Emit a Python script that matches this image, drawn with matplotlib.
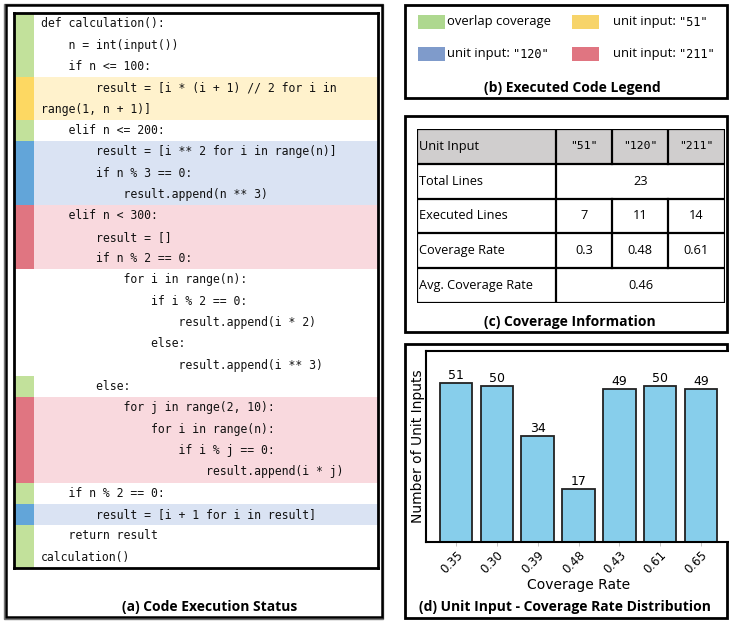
import numpy as np
import matplotlib
matplotlib.use("Agg")
import matplotlib.pyplot as plt
from matplotlib.patches import Rectangle

W, H = 729, 621

#%% data
code_lines = [
    "def calculation():",
    "    n = int(input())",
    "    if n <= 100:",
    "        result = [i * (i + 1) // 2 for i in",
    "range(1, n + 1)]",
    "    elif n <= 200:",
    "        result = [i ** 2 for i in range(n)]",
    "        if n % 3 == 0:",
    "            result.append(n ** 3)",
    "    elif n < 300:",
    "        result = []",
    "        if n % 2 == 0:",
    "            for i in range(n):",
    "                if i % 2 == 0:",
    "                    result.append(i * 2)",
    "                else:",
    "                    result.append(i ** 3)",
    "        else:",
    "            for j in range(2, 10):",
    "                for i in range(n):",
    "                    if i % j == 0:",
    "                        result.append(i * j)",
    "    if n % 2 == 0:",
    "        result = [i + 1 for i in result]",
    "    return result",
    "calculation()",
]
line_status = ['ov', 'ov', 'ov', '51', '51', 'ov', '120', '120', '120',
               '211', '211', '211', '', '', '', '', '', 'ov',
               '211', '211', '211', '211', 'ov', '120', 'ov', 'ov']

legend_labels = ['overlap coverage', 'unit input: ', 'unit input: ', 'unit input: ']
legend_quoted = ['', '"51"', '"120"', '"211"']

table_header = ['Unit Input', '"51"', '"120"', '"211"']
table_rows = ['Total Lines', 'Executed Lines', 'Coverage Rate', 'Avg. Coverage Rate']
total_lines = '23'
executed_lines = ['7', '11', '14']
coverage_rate = ['0.3', '0.48', '0.61']
avg_coverage = '0.46'

rate_labels = ['0.35', '0.30', '0.39', '0.48', '0.43', '0.61', '0.65']
unit_counts = [51, 50, 34, 17, 49, 50, 49]

#%% colours
side_col = {'ov': '#c2e19b', '51': '#fdd862', '120': '#62a5d9', '211': '#e07581', '': 'white'}
back_col = {'ov': 'white', '51': '#fff2cc', '120': '#dae3f3', '211': '#f9d9de', '': 'white'}
legend_col = ['#aed88f', '#f7d46a', '#7f9bcb', '#e07581']

SANS = ['Open Sans', 'DejaVu Sans']
MONO = ['DejaVu Sans Mono']

fig = plt.figure(figsize=(W / 100, H / 100), dpi=100)

# full figure axes in pixel units for frames and titles
bg = fig.add_axes([0, 0, 1, 1])
bg.set_xlim(0, W)
bg.set_ylim(H, 0)
bg.axis('off')

def frame(x0, y0, x1, y1, lw=1.8, shadow=False):
    if shadow:
        bg.add_patch(Rectangle((x0 - 1.5, y0 - 1.5), x1 - x0 + 3, y1 - y0 + 3,
                               fill=False, ec='#777777', lw=1.0))
    bg.add_patch(Rectangle((x0, y0), x1 - x0, y1 - y0, fill=False, ec='black', lw=lw))

def pix_ax(x0, y0, x1, y1):
    return fig.add_axes([x0 / W, 1 - y1 / H, (x1 - x0) / W, (y1 - y0) / H])

#%% (a) code execution status
frame(6, 5, 382, 617, lw=1.8, shadow=True)
ca = pix_ax(14, 13, 378, 568)
nrow = len(code_lines)
ypos = np.arange(nrow) + 0.5
ca.barh(ypos, 344, left=20, height=1.0, color=[back_col[s] for s in line_status], lw=0)
ca.barh(ypos, 20, left=0, height=1.0, color=[side_col[s] for s in line_status], lw=0)
for i, line in enumerate(code_lines):
    ca.text(27, ypos[i], line, family=MONO, fontsize=8.3, va='center', ha='left', color='#111111')
ca.set_xlim(0, 364)
ca.set_ylim(nrow, 0)
ca.set_xticks([])
ca.set_yticks([])
for sp in ca.spines.values():
    sp.set_linewidth(2.0)
bg.text(210, 607, '(a) Code Execution Status', family=SANS, fontsize=10,
        fontweight='bold', ha='center', va='center')

#%% (b) legend
frame(405, 5, 727, 98, lw=2.0)
lx = [418, 572, 418, 572]
ly = [22, 22, 54, 54]
tx = [447, 613, 447, 613]
qx = [0, 679, 513, 679]
for k in range(4):
    bg.add_patch(Rectangle((lx[k], ly[k] - 7), 27, 14, color=legend_col[k], lw=0))
    bg.text(tx[k], ly[k], legend_labels[k], family=SANS, fontsize=9.4, ha='left', va='center')
    if legend_quoted[k]:
        bg.text(qx[k], ly[k], legend_quoted[k], family=MONO, fontsize=8.6, ha='left', va='center')
bg.text(572, 88, '(b) Executed Code Legend', family=SANS, fontsize=10,
        fontweight='bold', ha='center', va='center')

#%% (c) coverage table
frame(405, 116, 727, 332, lw=2.0)
ta = pix_ax(417, 129, 725, 303)
col_edges = [0, 139, 195, 251, 308]
rh = 34.8
ta.set_xlim(0, 308)
ta.set_ylim(5 * rh, 0)
ta.axis('off')
ta.add_patch(Rectangle((0, 0), 308, rh, color='#d0cece', lw=0))
lw_t = 1.6
for r in range(6):
    ta.plot([0, 308], [r * rh, r * rh], color='black', lw=lw_t, solid_capstyle='projecting')
for c in [0, 4]:
    ta.plot([col_edges[c]] * 2, [0, 5 * rh], color='black', lw=lw_t, solid_capstyle='projecting')
ta.plot([col_edges[1]] * 2, [0, 5 * rh], color='black', lw=lw_t)
for c in [2, 3]:
    ta.plot([col_edges[c]] * 2, [0, rh], color='black', lw=lw_t)
    ta.plot([col_edges[c]] * 2, [2 * rh, 4 * rh], color='black', lw=lw_t)

ta.text(2, 0.5 * rh, table_header[0], family=SANS, fontsize=9.2, va='center', ha='left')
for c in range(1, 4):
    cx = (col_edges[c] + col_edges[c + 1]) / 2
    ta.text(cx, 0.5 * rh, table_header[c], family=MONO, fontsize=8.2, va='center', ha='center')
    ta.text(cx, 2.5 * rh, executed_lines[c - 1], family=SANS, fontsize=9.2, va='center', ha='center')
    ta.text(cx, 3.5 * rh, coverage_rate[c - 1], family=SANS, fontsize=9.2, va='center', ha='center')
for r, name in enumerate(table_rows):
    ta.text(2, (r + 1.5) * rh, name, family=SANS, fontsize=9.2, va='center', ha='left')
mid = (col_edges[1] + col_edges[4]) / 2
ta.text(mid, 1.5 * rh, total_lines, family=SANS, fontsize=9.2, va='center', ha='center')
ta.text(mid, 4.5 * rh, avg_coverage, family=SANS, fontsize=9.2, va='center', ha='center')
bg.text(570, 322, '(c) Coverage Information', family=SANS, fontsize=10,
        fontweight='bold', ha='center', va='center')

#%% (d) distribution bar chart
frame(405, 344, 727, 618, lw=2.0)
ba = pix_ax(426, 351, 731, 542)
xs = np.arange(len(unit_counts))
bars = ba.bar(xs, unit_counts, width=0.8, color='#87ceeb', edgecolor='#222222', linewidth=1.3)
for b, v in zip(bars, unit_counts):
    ba.text(b.get_x() + b.get_width() / 2, v + 0.4, str(v), ha='center', va='bottom', fontsize=9)
ba.set_ylim(0, max(unit_counts) * 1.2)
ba.set_yticks([])
ba.set_xticks(xs)
ba.set_xticklabels(rate_labels, rotation=45, ha='right', rotation_mode='anchor', fontsize=8.5)
ba.tick_params(axis='x', length=3, width=0.6, color='#bbbbbb', pad=2)
for sp in ba.spines.values():
    sp.set_linewidth(1.5)
ba.set_xlabel('Coverage Rate', fontsize=10, labelpad=1)
ba.set_ylabel('Number of Unit Inputs', fontsize=10, labelpad=1)
bg.text(565, 607, '(d) Unit Input - Coverage Rate Distribution', family=SANS, fontsize=10,
        fontweight='bold', ha='center', va='center')

fig.savefig('out.png', dpi=100)
